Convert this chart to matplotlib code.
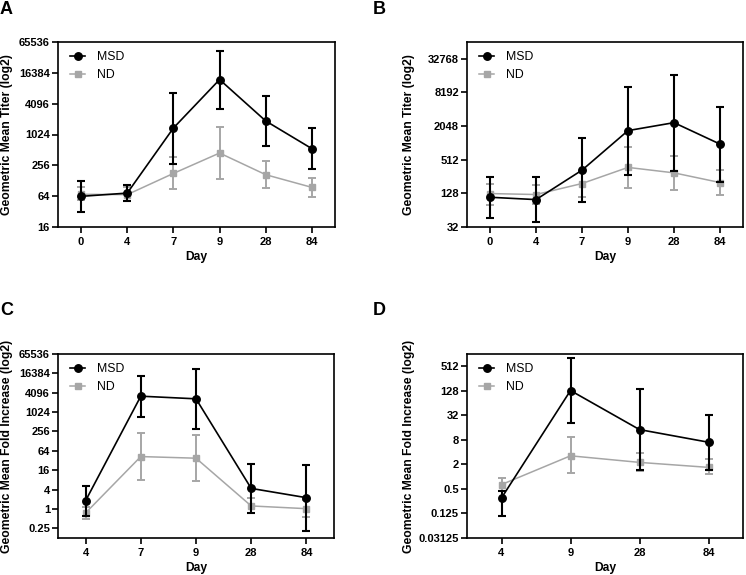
import matplotlib
matplotlib.use('Agg')
import matplotlib.pyplot as plt
import numpy as np
from matplotlib.ticker import FixedLocator, FixedFormatter, NullLocator

plt.rcParams['font.family'] = ['Liberation Sans', 'DejaVu Sans']

# ---------------- data ----------------
days_ab = ['0', '4', '7', '9', '28', '84']
days_c = ['4', '7', '9', '28', '84']
days_d = ['4', '9', '28', '84']

# Panel A: geometric mean titer
A_msd = [63.5, 73.5, 1370, 12100, 1880, 541]
A_msd_lo = [31.4, 50.7, 276, 3220, 622, 214]
A_msd_hi = [128, 108, 6700, 44500, 5720, 1390]
A_nd = [69.6, 68.6, 178, 445, 168, 95]
A_nd_lo = [53, 52, 88, 141, 92, 62.6]
A_nd_hi = [96, 96, 372, 1410, 311, 143]

# Panel B: geometric mean titer
B_msd = [109, 99, 333, 1700, 2360, 975]
B_msd_lo = [47, 39, 89, 278, 324, 205]
B_msd_hi = [252, 252, 1250, 10400, 16700, 4580]
B_nd = [127, 122, 192, 373, 298, 200]
B_nd_lo = [79, 84, 111, 161, 150, 122]
B_nd_hi = [192, 181, 311, 872, 601, 333]

# Panel C: geometric mean fold increase
C_msd = [1.81, 3200, 2650, 4.35, 2.24]
C_msd_lo = [0.59, 735, 312, 0.73, 0.21]
C_msd_hi = [5.3, 14000, 22400, 25.8, 24]
C_nd = [0.75, 42.5, 37.8, 1.24, 1.02]
C_nd_lo = [0.49, 8.1, 7.5, 0.73, 0.55]
C_nd_hi = [1.13, 224, 199, 2.19, 1.9]

# Panel D: geometric mean fold increase
D_msd = [0.30, 130, 14.3, 7.0]
D_msd_lo = [0.11, 21.3, 1.45, 1.45]
D_msd_hi = [0.45, 800, 141, 33]
D_nd = [0.64, 3.25, 2.24, 1.69]
D_nd_lo = [0.44, 1.2, 1.35, 1.16]
D_nd_hi = [0.93, 9.3, 3.85, 2.65]

A_ticks = [16, 64, 256, 1024, 4096, 16384, 65536]
A_ticklabels = ['16', '64', '256', '1024', '4096', '16384', '65536']
B_ticks = [32, 128, 512, 2048, 8192, 32768]
B_ticklabels = ['32', '128', '512', '2048', '8192', '32768']
C_ticks = [0.25, 1, 4, 16, 64, 256, 1024, 4096, 16384, 65536]
C_ticklabels = ['0.25', '1', '4', '16', '64', '256', '1024', '4096', '16384', '65536']
D_ticks = [0.03125, 0.125, 0.5, 2, 8, 32, 128, 512]
D_ticklabels = ['0.03125', '0.125', '0.5', '2', '8', '32', '128', '512']

series_names = ['MSD', 'ND']
titer_label = 'Geometric Mean Titer (log2)'
fold_label = 'Geometric Mean Fold Increase (log2)'
xlabel = 'Day'

# ---------------- figure ----------------
W, H = 746, 575
fig = plt.figure(figsize=(W / 100, H / 100), dpi=100)

BLACK = '#000000'
GREY = '#a6a6a6'


def px_axes(l, t, r, b):
    return fig.add_axes([l / W, (H - b) / H, (r - l) / W, (b - t) / H])


def panel(ax, cats, msd, msd_lo, msd_hi, nd, nd_lo, nd_hi, ylim, ticks, ticklabels,
          ylabel, ylabel_x, xlabel_y, width_px, height_px):
    x = np.arange(len(cats))
    nd = np.array(nd); msd = np.array(msd)
    ax.errorbar(x, nd, yerr=[nd - np.array(nd_lo), np.array(nd_hi) - nd], fmt='none',
                ecolor=GREY, elinewidth=1.4, capsize=3, capthick=1.4, zorder=2)
    l_nd, = ax.plot(x, nd, color=GREY, lw=1.1, marker='s', ms=4.4, mec=GREY, mfc=GREY,
                    label=series_names[1], zorder=3)
    ax.errorbar(x, msd, yerr=[msd - np.array(msd_lo), np.array(msd_hi) - msd], fmt='none',
                ecolor=BLACK, elinewidth=1.5, capsize=3, capthick=1.5, zorder=4)
    l_msd, = ax.plot(x, msd, color=BLACK, lw=1.2, marker='o', ms=5.4, mec=BLACK, mfc=BLACK,
                     label=series_names[0], zorder=5)
    ax.set_yscale('log', base=2)
    ax.set_ylim(*ylim)
    ax.yaxis.set_major_locator(FixedLocator(ticks))
    ax.yaxis.set_major_formatter(FixedFormatter(ticklabels))
    ax.yaxis.set_minor_locator(NullLocator())
    ax.set_xlim(-0.5, len(cats) - 0.5)
    ax.set_xticks(x)
    ax.set_xticklabels(cats)
    for s in ax.spines.values():
        s.set_linewidth(1.2)
        s.set_color('black')
    ax.tick_params(axis='both', direction='out', length=4, width=1.2,
                   labelsize=8, top=False, right=False)
    ax.tick_params(axis='y', pad=1.8)
    ax.tick_params(axis='x', pad=3)
    for lab in ax.get_xticklabels() + ax.get_yticklabels():
        lab.set_fontweight('bold')
    ax.set_ylabel(ylabel, fontsize=8.7, fontweight='bold')
    ax.set_xlabel(xlabel, fontsize=8.7, fontweight='bold')
    ax.yaxis.set_label_coords(ylabel_x / width_px, 0.5)
    ax.xaxis.set_label_coords(0.5, xlabel_y / height_px)
    ax.legend(handles=[l_msd, l_nd], loc='upper left', frameon=False, fontsize=8.8,
              handlelength=1.25, handletextpad=0.95, labelspacing=0.5,
              bbox_to_anchor=(12 / width_px, 1 - 9 / height_px), borderaxespad=0,
              borderpad=0)


axA = px_axes(58, 42, 335, 227)
axB = px_axes(467, 42, 743, 227)
axC = px_axes(58, 354, 334, 538)
axD = px_axes(467, 354, 743, 538)

panel(axA, days_ab, A_msd, A_msd_lo, A_msd_hi, A_nd, A_nd_lo, A_nd_hi, (16, 65536),
      A_ticks, A_ticklabels, titer_label, 13 - 58, -24, 277, 185)
panel(axB, days_ab, B_msd, B_msd_lo, B_msd_hi, B_nd, B_nd_lo, B_nd_hi, (32, 65536),
      B_ticks, B_ticklabels, titer_label, 415 - 467, -24, 276, 185)
panel(axC, days_c, C_msd, C_msd_lo, C_msd_hi, C_nd, C_nd_lo, C_nd_hi, (0.125, 65536),
      C_ticks, C_ticklabels, fold_label, 13 - 58, -24, 276, 184)
panel(axD, days_d, D_msd, D_msd_lo, D_msd_hi, D_nd, D_nd_lo, D_nd_hi, (0.03125, 1024),
      D_ticks, D_ticklabels, fold_label, 415 - 467, -24, 276, 184)

for letter, (px, py) in zip(['A', 'B', 'C', 'D'], [(0, 1), (373, 1), (0, 302), (373, 302)]):
    fig.text(px / W, 1 - py / H, letter, fontsize=13, fontweight='bold', va='top', ha='left')

fig.savefig('out.png', dpi=100)
